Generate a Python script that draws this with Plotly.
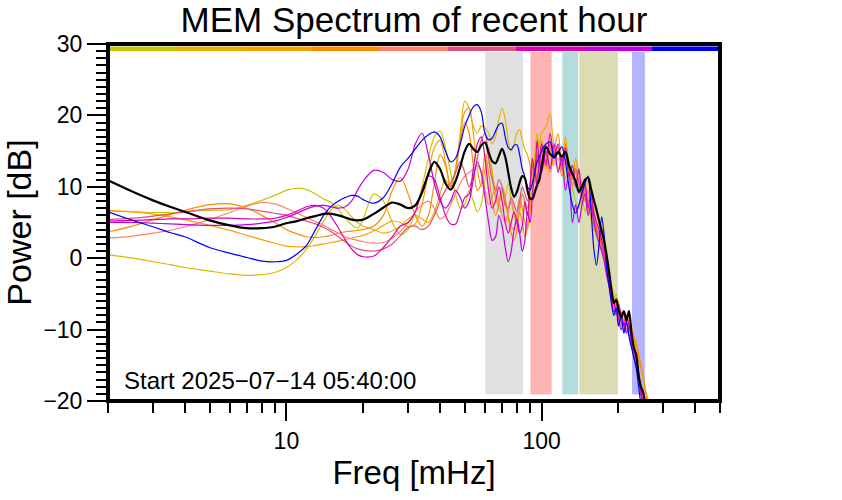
import math
import plotly.graph_objects as go

# ---------------- data ----------------
freq = [2, 2.5, 3, 3.5, 4, 5, 6, 7, 8, 9,
        10, 11, 12, 13, 14, 15, 16, 17, 18, 19,
        20, 22, 24, 26, 28, 30, 32, 34, 36, 38,
        40, 42, 44, 46, 48, 50, 52, 54, 56, 58,
        60, 62, 64, 66, 68, 70, 72, 74, 76, 78,
        80, 82, 84, 86, 88, 90, 92, 94, 96, 98,
        100, 104, 108, 112, 116, 120, 124, 128, 132, 136,
        140, 144, 148, 152, 156, 160, 164, 168, 172, 176,
        180, 184, 188, 192, 196, 200, 205, 210, 215, 220,
        225, 230, 235, 240, 245, 250, 255, 260, 265, 270]

s1_yellowgreen = [
    6.6, 6.5, 6.4, 6.4, 6.5, 6.7, 6.8, 7.4, 8.1, 8.8,
    9.5, 9.8, 9.6, 9.0, 8.3, 7.8, 6.8, 5.6, 4.7, 4.2,
    5.5, 9.0, 8.0, 5.0, 3.3, 4.0, 6.5, 10.0, 14.0, 17.0,
    17.8, 15.5, 12.0, 9.0, 7.0, 7.5, 9.5, 8.0, 6.5, 7.5,
    11.0, 13.5, 12.0, 9.0, 7.0, 6.5, 8.5, 10.5, 8.0, 6.0,
    5.0, 6.5, 9.0, 7.5, 6.0, 7.5, 11.0, 14.5, 17.5, 15.0,
    12.0, 14.5, 13.0, 15.0, 12.5, 14.0, 11.0, 13.5, 10.0, 8.0,
    7.0, 8.5, 6.5, 8.0, 5.5, 4.5, 3.0, 2.5, 1.5, 1.0,
    -1.0, -3.0, -4.5, -6.0, -5.0, -7.5, -9.0, -8.0, -9.5, -8.5,
    -11.0, -12.5, -14.0, -16.0, -18.5, -20.5, -22, -24, -25, -26]

s2_gold = [
    0.5, 0.0, -0.5, -0.9, -1.3, -1.8, -2.2, -2.4, -2.3, -2.0,
    -1.3, -0.2, 1.3, 3.2, 5.2, 6.8, 7.4, 6.8, 5.8, 5.0,
    4.5, 4.0, 3.5, 3.8, 4.5, 5.5, 6.0, 5.5, 5.0, 6.5,
    9.0, 11.0, 10.0, 12.5, 17.5, 22.0, 21.0, 18.5, 17.5, 18.5,
    18.2, 17.5, 16.0, 17.0, 19.5, 21.0, 19.5, 16.5, 15.0, 16.0,
    17.5, 18.0, 16.5, 15.2, 14.5, 13.0, 10.0, 9.5, 13.0, 16.0,
    17.5, 18.5, 20.3, 16.0, 15.5, 14.0, 15.5, 13.5, 11.5, 13.0,
    12.0, 9.0, 8.0, 7.5, 6.0, 4.0, 3.5, 2.5, 1.0, 0.0,
    -1.5, -3.0, -5.0, -6.5, -7.0, -8.0, -8.8, -9.5, -8.5, -9.0,
    -10.5, -12.0, -13.0, -15.5, -17.5, -19.0, -20.5, -22, -23, -24]

s3_orange = [
    6.7, 6.5, 6.2, 5.8, 5.4, 4.6, 3.9, 3.2, 2.6, 2.1,
    1.7, 1.6, 1.6, 1.8, 2.0, 2.2, 2.4, 2.6, 2.8, 3.0,
    3.2, 3.8, 4.6, 5.2, 5.0, 4.4, 4.8, 7.5, 12.0, 15.5,
    16.5, 13.5, 10.0, 12.5, 17.0, 20.5, 21.0, 17.5, 12.5, 10.0,
    12.5, 15.5, 12.0, 8.5, 7.5, 9.5, 8.0, 6.0, 4.5, 4.0,
    6.0, 8.5, 7.0, 5.0, 4.0, 6.5, 10.0, 13.5, 11.0, 13.5,
    15.0, 12.5, 16.5, 13.5, 15.5, 12.0, 17.0, 13.0, 11.5, 14.0,
    12.0, 10.5, 9.0, 11.0, 8.0, 7.0, 5.0, 4.5, 3.0, 1.5,
    0.0, -2.5, -4.0, -5.5, -7.0, -6.0, -8.5, -7.5, -9.0, -8.0,
    -9.5, -11.5, -12.5, -14.0, -15.5, -17.0, -18.5, -19.5, -20.5, -22]

s4_darkorange = [
    3.7, 4.5, 5.4, 6.1, 6.7, 7.5, 7.6, 7.0, 6.0, 5.0,
    4.0, 3.4, 3.0, 2.9, 3.0, 3.2, 3.5, 3.7, 3.8, 3.9,
    4.0, 4.5, 6.0, 9.5, 11.3, 9.0, 6.0, 4.5, 6.0, 10.5,
    14.5, 13.0, 10.0, 12.0, 16.5, 19.0, 17.5, 13.0, 9.5, 10.5,
    14.5, 12.0, 8.0, 6.0, 7.5, 10.0, 8.5, 5.5, 3.5, 2.5,
    4.0, 6.5, 5.0, 3.0, 4.5, 9.0, 13.5, 11.0, 15.0, 12.5,
    16.5, 14.0, 12.0, 15.0, 17.5, 13.5, 16.0, 12.5, 10.0, 12.5,
    10.5, 7.5, 9.5, 6.5, 8.0, 5.5, 4.0, 3.0, 2.0, 0.5,
    -1.0, -3.5, -5.0, -6.0, -6.5, -8.5, -7.5, -9.0, -8.0, -9.5,
    -10.0, -11.0, -12.0, -13.5, -15.0, -16.5, -18.5, -20.5, -22, -24]

s5_salmon = [
    2.8, 3.1, 3.5, 3.9, 4.4, 5.4, 6.4, 7.3, 7.8, 7.6,
    7.0, 6.3, 5.7, 5.1, 4.6, 4.0, 3.5, 3.0, 2.7, 2.5,
    2.3, 2.1, 2.2, 2.8, 3.8, 5.0, 6.5, 7.5, 8.0, 7.0,
    5.5, 6.0, 7.5, 9.0, 10.5, 11.5, 12.0, 12.5, 13.0, 12.0,
    9.5, 7.5, 8.5, 10.0, 8.0, 6.0, 5.0, 6.5, 8.0, 6.5,
    5.5, 7.0, 9.0, 8.0, 7.0, 9.5, 12.5, 10.5, 13.5, 12.0,
    14.5, 13.0, 15.5, 13.0, 14.0, 11.5, 13.5, 12.0, 10.5, 12.0,
    9.0, 10.5, 8.0, 9.5, 7.0, 5.5, 4.5, 3.0, 1.5, 0.5,
    -1.5, -3.5, -5.5, -7.0, -6.0, -8.0, -9.5, -8.5, -10.0, -9.0,
    -11.5, -13.0, -14.5, -16.5, -18.0, -19.5, -21, -23, -24, -25]

s6_pinkred = [
    5.4, 5.6, 5.9, 6.2, 6.5, 6.9, 7.0, 6.9, 6.6, 6.3,
    6.0, 5.6, 5.2, 4.8, 4.3, 3.7, 3.0, 2.3, 1.7, 1.3,
    1.1, 1.0, 1.3, 2.0, 3.2, 4.3, 4.5, 4.0, 4.5, 6.0,
    8.0, 9.5, 10.5, 12.0, 13.5, 12.0, 10.0, 11.5, 14.0, 16.5,
    17.5, 14.0, 11.0, 9.5, 11.0, 10.0, 7.5, 7.0, 8.5, 7.5,
    6.5, 8.0, 10.0, 9.0, 8.0, 10.0, 13.0, 11.5, 14.5, 13.0,
    15.5, 13.5, 16.0, 14.0, 15.0, 12.5, 14.5, 12.5, 11.0, 12.5,
    10.5, 8.5, 10.0, 8.0, 8.5, 6.0, 4.0, 3.5, 1.5, 0.0,
    -2.0, -4.0, -5.5, -6.5, -8.0, -7.0, -9.0, -10.0, -9.0, -10.5,
    -12.0, -13.5, -15.0, -17.0, -19.0, -20.5, -22, -23, -24, -25]

s7_magenta = [
    5.2, 5.3, 5.4, 5.5, 5.5, 5.6, 5.6, 5.5, 5.5, 5.6,
    6.0, 6.6, 7.2, 7.4, 7.0, 5.8, 4.2, 2.6, 1.3, 0.5,
    0.2, 0.3, 1.5, 3.0, 4.5, 5.0, 6.5, 9.5, 11.5, 11.0,
    8.5, 6.0, 4.8, 4.8, 6.5, 8.5, 9.0, 12.5, 16.0, 17.0,
    14.0, 9.5, 7.0, 8.0, 10.0, 8.0, 5.0, 3.5, 5.0, 6.5,
    5.0, 3.5, 4.5, 8.0, 6.0, 10.0, 14.0, 12.0, 16.5, 13.0,
    16.0, 13.0, 17.5, 14.5, 16.0, 13.0, 15.5, 11.5, 13.0, 10.0,
    12.5, 9.0, 10.5, 7.0, 9.0, 6.5, 5.0, 4.0, 2.5, 1.0,
    -1.0, -3.0, -5.0, -6.0, -7.5, -6.5, -8.0, -9.5, -8.0, -9.5,
    -11.0, -12.5, -14.0, -16.0, -18.5, -20.5, -22, -24, -25, -26]

s8_purple = [
    5.0, 5.0, 4.9, 4.8, 4.7, 4.6, 4.6, 4.7, 4.9, 5.2,
    5.7, 6.3, 6.9, 7.3, 7.4, 7.2, 7.0, 7.2, 8.0, 9.5,
    10.8, 12.3, 12.0, 11.0, 10.8, 12.5, 16.0, 17.5, 14.5, 10.5,
    8.0, 7.0, 8.0, 9.5, 8.5, 7.0, 8.0, 11.0, 13.5, 12.0,
    8.5, 5.0, 2.5, 3.0, 6.0, 4.5, 1.5, -0.5, 1.0, 4.0,
    5.5, 3.5, 1.0, 2.5, 6.5, 5.0, 8.5, 12.5, 10.0, 13.5,
    12.0, 15.0, 12.5, 16.0, 12.0, 14.0, 9.5, 12.0, 5.0, 7.5,
    5.0, 7.5, 9.0, 6.0, 7.5, 5.0, 3.5, 2.0, 1.0, -0.5,
    -2.5, -4.0, -6.0, -7.5, -7.0, -8.5, -10.0, -9.0, -10.5, -9.5,
    -12.0, -13.5, -15.0, -17.0, -19.0, -20.5, -22, -23.5, -25, -26]

s9_blue = [
    6.5, 5.3, 4.4, 3.6, 3.0, 1.5, 0.7, 0.1, -0.4, -0.5,
    -0.3, 0.6, 1.8, 4.0, 6.0, 7.3, 8.0, 8.5, 8.8, 8.7,
    8.2, 7.7, 8.5, 10.5, 12.8, 14.0, 15.3, 16.5, 17.3, 17.7,
    17.0, 15.0, 13.5, 14.0, 16.0, 18.5, 20.0, 21.2, 21.5, 20.5,
    17.5, 16.6, 16.8, 17.8, 18.7, 18.9, 17.0, 15.5, 15.2, 15.8,
    15.9, 14.5, 12.5, 11.4, 10.0, 9.6, 10.5, 12.0, 13.5, 14.2,
    15.0, 16.0, 16.3, 14.0, 14.8, 15.6, 13.5, 10.0, 7.5, 6.3,
    7.5, 9.1, 10.5, 11.5, 7.0, 1.5, -1.0, 2.0, 5.8, 3.0,
    -1.5, -4.0, -6.5, -8.0, -7.0, -9.5, -8.0, -10.5, -9.0, -11.0,
    -12.5, -14.0, -15.5, -18.0, -20.5, -22, -23, -24, -25, -26]

mean_black = [
    10.9, 9.3, 8.1, 7.2, 6.5, 5.3, 4.6, 4.2, 4.2, 4.4,
    4.9, 5.2, 5.6, 5.9, 6.2, 6.2, 6.0, 5.7, 5.4, 5.3,
    5.4, 6.2, 7.1, 7.8, 7.5, 7.0, 7.4, 9.2, 11.8, 13.5,
    12.5, 10.5, 9.6, 10.8, 12.8, 15.0, 16.0, 15.3, 14.9, 15.8,
    16.2, 14.8, 13.6, 13.3, 14.3, 15.3, 14.2, 12.0, 9.8, 8.6,
    9.3, 10.6, 11.5, 11.2, 9.5, 8.4, 8.3, 9.2, 10.2, 11.0,
    12.8, 15.6, 14.6, 14.2, 14.9, 14.2, 14.9, 13.0, 11.8, 10.8,
    9.3, 10.0, 11.0, 11.3, 9.8, 8.2, 6.8, 5.2, 3.8, 2.3,
    0.3, -2.0, -4.5, -6.3, -5.8, -7.2, -8.3, -7.4, -8.7, -7.4,
    -10.5, -12.6, -13.6, -16.5, -18.0, -18.8, -20.5, -22, -24, -25]

series = [s1_yellowgreen, s2_gold, s3_orange, s4_darkorange, s5_salmon,
          s6_pinkred, s7_magenta, s8_purple, s9_blue]
series_colors = ["#c8c800", "#e2b400", "#f5a300", "#ff8c00", "#ff806e",
                 "#e0507a", "#e000b0", "#c000e0", "#0000ff"]

band_lo = [60, 90, 120, 140, 225]
band_hi = [85, 110, 140, 200, 255]
band_colors = ["#e0e0e0", "#ffb4b4", "#b4dcdc", "#dcdcb4", "#b4b4ff"]

x_major = [10, 100]
x_minor = [2, 3, 4, 5, 6, 7, 8, 9, 20, 30, 40, 50, 60, 70, 80, 90, 200, 300, 400, 500]
y_major = [-20, -10, 0, 10, 20, 30]
y_major_text = ["\u221220", "\u221210", "0", "10", "20", "30"]

title_text = "MEM Spectrum of recent hour"
start_text = "Start 2025\u221207\u221214 05:40:00"

# ---------------- figure ----------------
FONT = "Liberation Sans, Arial, Helvetica, sans-serif"
BAND_BOTTOM, BAND_TOP = -19.15, 28.95

fig = go.Figure()

for lo, hi, col in zip(band_lo, band_hi, band_colors):
    fig.add_trace(go.Scatter(
        x=[lo, hi, hi, lo, lo],
        y=[BAND_BOTTOM, BAND_BOTTOM, BAND_TOP, BAND_TOP, BAND_BOTTOM],
        mode="lines", fill="toself", fillcolor=col,
        line=dict(color="white", width=1), hoverinfo="skip", showlegend=False))

for vals, col in zip(series, series_colors):
    fig.add_trace(go.Scatter(
        x=freq, y=vals, mode="lines",
        line=dict(color=col, width=1.2, shape="spline", smoothing=0.9),
        showlegend=False))

fig.add_trace(go.Scatter(
    x=freq, y=mean_black, mode="lines",
    line=dict(color="black", width=2.2, shape="spline", smoothing=0.9),
    showlegend=False))

shapes = []
n = len(series_colors)
for i, col in enumerate(series_colors):
    shapes.append(dict(type="rect", xref="paper", yref="paper",
                       x0=i / n, x1=(i + 1) / n, y0=0.9804, y1=0.993,
                       fillcolor=col, line=dict(width=0), layer="above"))
shapes.append(dict(type="rect", xref="paper", yref="paper", x0=0, x1=1, y0=0, y1=1,
                   line=dict(color="black", width=4), layer="above"))

fig.update_layout(
    width=842, height=500,
    margin=dict(l=108, r=122, t=44, b=99),
    paper_bgcolor="white", plot_bgcolor="white",
    font=dict(family=FONT, color="black"),
    showlegend=False,
    shapes=shapes,
    title=dict(text=title_text, x=0.5, xref="paper", xanchor="center",
               y=1 - 20 / 500, yref="container", yanchor="middle",
               font=dict(size=35, family=FONT, color="black")),
    annotations=[dict(text=start_text, xref="paper", yref="paper",
                      x=(122 - 108) / 612, y=(401 - 380) / 357,
                      xanchor="left", yanchor="middle", showarrow=False,
                      font=dict(size=24, family=FONT, color="black"))],
)

fig.update_xaxes(
    type="log", range=[math.log10(2), math.log10(500)],
    tickmode="array", tickvals=x_major, ticktext=[str(v) for v in x_major],
    ticks="outside", ticklen=19, tickwidth=1.5, tickcolor="black",
    tickfont=dict(size=23, family=FONT, color="black"),
    showgrid=False, zeroline=False, showline=False,
    minor=dict(tickmode="array", tickvals=x_minor, ticks="outside", ticklen=11,
               tickwidth=1.5, tickcolor="black", showgrid=False),
    title=dict(text="Freq [mHz]", font=dict(size=33, family=FONT, color="black"), standoff=8),
)

fig.update_yaxes(
    range=[-20, 30],
    tickmode="array", tickvals=y_major, ticktext=y_major_text,
    ticks="outside", ticklen=20, tickwidth=1.5, tickcolor="black",
    tickfont=dict(size=23, family=FONT, color="black"),
    showgrid=False, zeroline=False, showline=False,
    minor=dict(tickmode="array", tickvals=[v for v in range(-20, 31) if v % 10 != 0],
               ticks="outside", ticklen=11, tickwidth=1.5, tickcolor="black", showgrid=False),
    title=dict(text="Power [dB]", font=dict(size=34, family=FONT, color="black"), standoff=6),
)

fig.write_html("out.html", config={"displayModeBar": False},
               post_script="document.body.style.margin='0';")
